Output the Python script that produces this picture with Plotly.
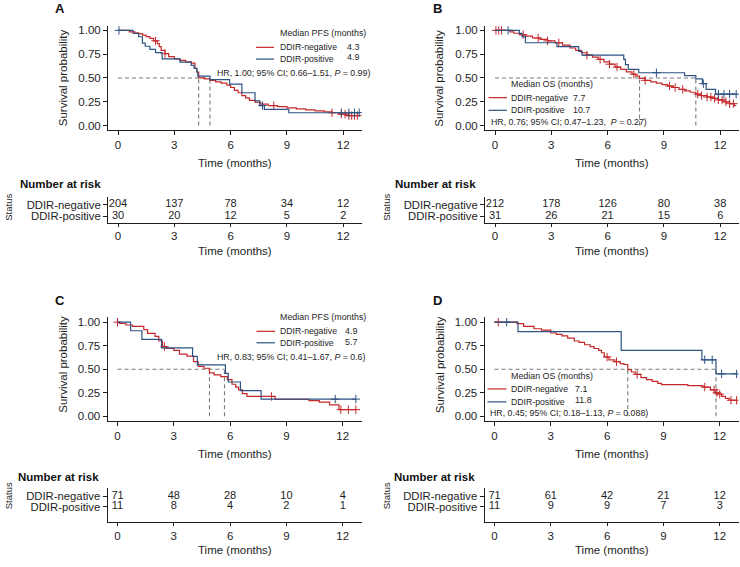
import numpy as np
import plotly.graph_objects as go

W, H = 740, 567
RED = "#C4282B"
BLUE = "#2D5283"
DASH = "#7A7A7A"
AX = "#1E1E1E"
FONT = "Liberation Sans, Arial, sans-serif"

# ---------------- data ----------------
groups = ["DDIR-negative", "DDIR-positive"]
risk_times = [0, 3, 6, 9, 12]

# Panel A (PFS, cohort 1)
A_neg_t = [0, 0.6, 0.9, 1.1, 1.3, 1.5, 1.7, 1.9, 2.1, 2.2, 2.3, 2.5, 2.7, 3.0, 3.3, 3.6, 3.9, 4.1, 4.2, 4.3,
           4.6, 4.9, 5.2, 5.5, 5.8, 6.0, 6.2, 6.4, 6.6, 6.8, 7.0, 7.3, 7.6, 8.0, 8.5, 9.0, 9.5, 10.0, 10.5, 11.0,
           11.4, 11.8, 12.2]
A_neg_s = [1.0, 0.985, 0.975, 0.965, 0.95, 0.935, 0.915, 0.89, 0.86, 0.83, 0.79, 0.755, 0.725, 0.70, 0.685,
           0.67, 0.655, 0.60, 0.56, 0.50, 0.49, 0.475, 0.46, 0.445, 0.425, 0.40, 0.37, 0.345, 0.315, 0.29, 0.265,
           0.245, 0.225, 0.21, 0.20, 0.185, 0.175, 0.165, 0.155, 0.145, 0.135, 0.12, 0.105]
A_neg_end = 12.85
A_neg_cens = [2.0, 2.5, 8.3, 11.4, 11.9, 12.1, 12.3, 12.45, 12.6, 12.75]
A_pos_t = [0, 0.8, 1.1, 1.3, 1.45, 1.7, 2.0, 2.35, 3.3, 3.9, 4.05, 4.2, 4.25, 4.9, 5.95, 6.6, 7.3, 7.55, 7.8, 9.1]
A_pos_s = [1.0, 0.967, 0.933, 0.867, 0.833, 0.80, 0.767, 0.70, 0.667, 0.633, 0.60, 0.567, 0.52, 0.483, 0.435,
           0.345, 0.26, 0.21, 0.17, 0.135]
A_pos_end = 12.9
A_pos_cens = [0.05, 7.7, 11.9, 12.3, 12.6, 12.85]
A_median = [4.3, 4.9]
A_risk_neg = [204, 137, 78, 34, 12]
A_risk_pos = [30, 20, 12, 5, 2]

# Panel B (OS, cohort 1)
B_neg_t = [0, 0.8, 1.0, 1.3, 1.6, 2.0, 2.4, 2.8, 3.2, 3.6, 4.0, 4.3, 4.6, 4.9, 5.2, 5.5, 5.8, 6.1, 6.4, 6.7,
           7.0, 7.3, 7.5, 7.7, 8.0, 8.3, 8.6, 8.9, 9.2, 9.5, 9.8, 10.1, 10.4, 10.7, 11.0, 11.3, 11.6, 11.9, 12.2,
           12.5, 12.75]
B_neg_s = [1.0, 0.985, 0.97, 0.955, 0.94, 0.92, 0.905, 0.89, 0.87, 0.845, 0.815, 0.79, 0.765, 0.74, 0.72,
           0.695, 0.67, 0.645, 0.615, 0.59, 0.565, 0.54, 0.52, 0.495, 0.475, 0.46, 0.445, 0.43, 0.415, 0.40,
           0.38, 0.365, 0.35, 0.33, 0.315, 0.30, 0.285, 0.27, 0.25, 0.23, 0.21]
B_neg_end = 12.85
B_neg_cens = [0.05, 0.2, 0.35, 1.5, 2.3, 2.8, 3.4, 4.9, 5.6, 6.1, 6.5, 7.4, 8.0, 9.3, 9.6, 10.0, 10.8, 11.0,
              11.3, 11.5, 11.7, 11.9, 12.1, 12.3, 12.5, 12.7]
B_pos_t = [0, 1.3, 1.44, 1.62, 3.3, 4.46, 4.64, 6.86, 6.95, 7.1, 7.66, 10.1, 10.7, 11.05, 11.25, 11.75]
B_pos_s = [1.0, 0.968, 0.935, 0.87, 0.83, 0.78, 0.74, 0.695, 0.64, 0.59, 0.555, 0.525, 0.49, 0.44, 0.38, 0.33]
B_pos_end = 12.9
B_pos_cens = [0.7, 8.6, 11.1, 11.9, 12.2, 12.5, 12.85]
B_median = [7.7, 10.7]
B_risk_neg = [212, 178, 126, 80, 38]
B_risk_pos = [31, 26, 21, 15, 6]

# Panel C (PFS, cohort 2)
C_neg_t = [0, 0.1, 0.45, 0.8, 1.4, 1.6, 2.0, 2.2, 2.4, 2.6, 3.0, 3.3, 3.7, 4.05, 4.3, 4.6, 4.9, 5.15, 5.5,
           5.85, 6.1, 6.3, 6.45, 6.65, 6.9, 8.4, 10.2, 10.75, 11.3, 11.8]
C_neg_s = [1.0, 0.986, 0.97, 0.955, 0.92, 0.88, 0.85, 0.80, 0.74, 0.72, 0.70, 0.66, 0.64, 0.58, 0.53, 0.51,
           0.46, 0.44, 0.42, 0.39, 0.34, 0.31, 0.28, 0.24, 0.21, 0.18, 0.165, 0.15, 0.12, 0.07]
C_neg_end = 12.7
C_neg_cens = [0.0, 2.5, 8.2, 11.9, 12.3, 12.7]
C_pos_t = [0, 0.7, 1.3, 2.35, 4.0, 4.25, 5.75, 5.9, 6.55, 7.65]
C_pos_s = [1.0, 0.909, 0.818, 0.727, 0.636, 0.545, 0.455, 0.364, 0.273, 0.182]
C_pos_end = 12.7
C_pos_cens = [11.6, 12.7]
C_median = [4.9, 5.7]
C_risk_neg = [71, 48, 28, 10, 4]
C_risk_pos = [11, 8, 4, 2, 1]

# Panel D (OS, cohort 2)
D_neg_t = [0, 1.2, 1.55, 2.1, 2.5, 3.0, 3.3, 3.6, 3.9, 4.25, 4.5, 4.8, 5.1, 5.3, 5.55, 5.7, 5.85, 6.1, 6.4,
           6.7, 6.9, 7.1, 7.3, 7.5, 7.8, 8.1, 8.4, 8.7, 8.9, 10.3, 11.1, 11.5, 11.75, 11.9, 12.1, 12.3, 12.5]
D_neg_s = [1.0, 0.985, 0.955, 0.93, 0.915, 0.885, 0.87, 0.855, 0.83, 0.80, 0.785, 0.76, 0.74, 0.72, 0.70,
           0.675, 0.63, 0.60, 0.58, 0.56, 0.55, 0.495, 0.47, 0.445, 0.41, 0.39, 0.37, 0.35, 0.335, 0.325, 0.31,
           0.28, 0.25, 0.235, 0.21, 0.19, 0.17]
D_neg_end = 12.9
D_neg_cens = [0.2, 6.0, 6.5, 7.6, 11.2, 11.7, 11.85, 12.0, 12.6, 12.9]
D_pos_t = [0, 1.25, 6.75, 11.05, 11.8]
D_pos_s = [1.0, 0.9, 0.70, 0.60, 0.45]
D_pos_end = 12.9
D_pos_cens = [0.65, 11.2, 11.6, 12.1, 12.9]
D_median = [7.1, 11.8]
D_risk_neg = [71, 61, 42, 21, 12]
D_risk_pos = [11, 9, 9, 7, 3]

legend_titles = ["Median PFS (months)", "Median OS (months)", "Median PFS (months)", "Median OS (months)"]
hr_texts = ["HR, 1.00; 95% CI; 0.66–1.51, <i>P</i> = 0.99)",
            "HR, 0.76; 95% CI; 0.47–1.23,  <i>P</i> = 0.27)",
            "HR, 0.83; 95% CI; 0.41–1.67, <i>P</i> = 0.6)",
            "HR, 0.45; 95% CI; 0.18–1.13, <i>P</i> = 0.088)"]
panel_letters = ["A", "B", "C", "D"]

# ---------------- helpers ----------------
def px(x):
    return x / W

def py(y):
    return 1 - y / H

def step_at(ts, ss, t):
    i = np.searchsorted(np.array(ts), t, side="right") - 1
    return ss[max(i, 0)]

fig = go.Figure()
annotations = []
shapes = []

def ann(text, x, y, size, xanchor="left", yanchor="middle", bold=False, angle=0, color=AX):
    if bold:
        text = "<b>" + text + "</b>"
    annotations.append(dict(text=text, x=px(x), y=py(y), xref="paper", yref="paper", showarrow=False,
                            xanchor=xanchor, yanchor=yanchor, textangle=angle,
                            font=dict(family=FONT, size=size, color=color)))

panels = [
    dict(neg=(A_neg_t, A_neg_s, A_neg_end, A_neg_cens), pos=(A_pos_t, A_pos_s, A_pos_end, A_pos_cens),
         med=A_median, rn=A_risk_neg, rp=A_risk_pos),
    dict(neg=(B_neg_t, B_neg_s, B_neg_end, B_neg_cens), pos=(B_pos_t, B_pos_s, B_pos_end, B_pos_cens),
         med=B_median, rn=B_risk_neg, rp=B_risk_pos),
    dict(neg=(C_neg_t, C_neg_s, C_neg_end, C_neg_cens), pos=(C_pos_t, C_pos_s, C_pos_end, C_pos_cens),
         med=C_median, rn=C_risk_neg, rp=C_risk_pos),
    dict(neg=(D_neg_t, D_neg_s, D_neg_end, D_neg_cens), pos=(D_pos_t, D_pos_s, D_pos_end, D_pos_cens),
         med=D_median, rn=D_risk_neg, rp=D_risk_pos),
]

# layout geometry (pixels)
left_x = [(108, 362), (485, 739), (107.5, 361.5), (484.5, 738.5)]
km_y = [(24.7, 129.8), (24.7, 129.8), (317.6, 421.4), (317.6, 421.4)]
risk_y = [(197, 222.3), (197, 222.3), (489, 523), (489, 523)]
risk_rng = [[0.435, 2.635], [0.435, 2.635], [-0.476, 2.762], [-0.476, 2.762]]
XR = [-0.533, 13.0]

layout = dict(width=W, height=H, margin=dict(l=0, r=0, t=0, b=0), paper_bgcolor="white",
              plot_bgcolor="white", showlegend=False, font=dict(family=FONT, size=11, color=AX))

for k, p in enumerate(panels):
    xa = "x" if k == 0 else f"x{k+1}"
    ya = "y" if k == 0 else f"y{k+1}"
    xr = f"x{k+5}"
    yr = f"y{k+5}"
    # median dashed lines
    m = p["med"]
    fig.add_trace(go.Scatter(x=[0, max(m)], y=[0.5, 0.5], mode="lines", xaxis=xa, yaxis=ya,
                             line=dict(color=DASH, width=1.1, dash="4px,3px"), hoverinfo="skip"))
    for mv in m:
        fig.add_trace(go.Scatter(x=[mv, mv], y=[0, 0.5], mode="lines", xaxis=xa, yaxis=ya,
                                 line=dict(color=DASH, width=1.1, dash="4px,3px"), hoverinfo="skip"))
    # curves
    for key, col in (("neg", RED), ("pos", BLUE)):
        ts, ss, end, cens = p[key]
        fig.add_trace(go.Scatter(x=list(ts) + [end], y=list(ss) + [ss[-1]], mode="lines", line_shape="hv",
                                 xaxis=xa, yaxis=ya, line=dict(color=col, width=1.2), hoverinfo="skip"))
        cy = [step_at(ts, ss, c) for c in cens]
        fig.add_trace(go.Scatter(x=cens, y=cy, mode="markers", xaxis=xa, yaxis=ya,
                                 marker=dict(symbol="cross-thin", size=6, line=dict(color=col, width=1)),
                                 hoverinfo="skip"))
    # risk table numbers
    fig.add_trace(go.Scatter(x=risk_times, y=[2] * 5, mode="text", text=[str(v) for v in p["rn"]],
                             textfont=dict(family=FONT, size=11, color=AX), xaxis=xr, yaxis=yr))
    fig.add_trace(go.Scatter(x=risk_times, y=[1] * 5, mode="text", text=[str(v) for v in p["rp"]],
                             textfont=dict(family=FONT, size=11, color=AX), xaxis=xr, yaxis=yr))

    x0, x1 = left_x[k]
    ky0, ky1 = km_y[k]
    ry0, ry1 = risk_y[k]
    common_x = dict(range=XR, tickvals=risk_times, ticks="outside", ticklen=4, tickcolor=AX, showline=True,
                    linecolor=AX, linewidth=1, showgrid=False, zeroline=False,
                    tickfont=dict(family=FONT, size=11.5, color=AX), domain=[px(x0), px(x1)])
    layout["xaxis" if k == 0 else f"xaxis{k+1}"] = dict(common_x, anchor=ya)
    layout["yaxis" if k == 0 else f"yaxis{k+1}"] = dict(
        range=[-0.05, 1.05], tickvals=[0, 0.25, 0.5, 0.75, 1.0], ticktext=["0.00", "0.25", "0.50", "0.75", "1.00"],
        ticks="outside", ticklen=4, tickcolor=AX, showline=True, linecolor=AX, linewidth=1, showgrid=False,
        zeroline=False, tickfont=dict(family=FONT, size=11.5, color=AX), domain=[py(ky1), py(ky0)], anchor=xa)
    layout[f"xaxis{k+5}"] = dict(common_x, anchor=yr, ticklen=3)
    layout[f"yaxis{k+5}"] = dict(range=risk_rng[k], tickvals=[2, 1], ticktext=groups, ticks="outside",
                                 ticklen=4, tickcolor=AX, showline=True, linecolor=AX, linewidth=1,
                                 showgrid=False, zeroline=False, tickfont=dict(family=FONT, size=11.3, color=AX),
                                 domain=[py(ry1), py(ry0)], anchor=xr)

    cx = (x0 + x1) / 2
    dy = 0 if k < 2 else 291.5
    dxp = 0 if k % 2 == 0 else 377
    # panel letter
    ann(panel_letters[k], 60 + dxp * 1.0 + (0 if k % 2 == 0 else 1), 8 + dy + (1 if k >= 2 else 0), 13,
        xanchor="center", bold=True, color="#111111")
    # axis titles
    ann("Survival probability", 63 + (0 if k % 2 == 0 else 376.5), 77.5 + dy - (4 if k >= 2 else 0), 11.5,
        xanchor="center", angle=-90)
    ann("Time (months)", cx, 163 + dy, 11.5, xanchor="center")
    # risk table texts
    rdy = 0 if k < 2 else 293.5
    ann("Number at risk", 18 + (0 if k % 2 == 0 else 375.5) - (2 if k >= 2 else 0), 183.7 + rdy, 11.5, bold=True,
        color="#111111")
    ann("Status", 8.5 + (0 if k % 2 == 0 else 378), 207 + rdy - (4 if k >= 2 else 0), 9.5, xanchor="center",
        angle=-90)
    ann("Time (months)", cx, 251 + (0 if k < 2 else 300), 11.5, xanchor="center")

# legends (pixel positions)
leg = [
    dict(title=(278, 32), red=(256, 274, 46.5), blue=(256, 274, 58.3), tx=278, val=(344.5, 46, 56.3), hr=(214.5, 72)),
    dict(title=(509.3, 83.7), red=(488.5, 507, 97), blue=(488.5, 507, 109.7), tx=509.3, val=(571.3, 97, 109.2), hr=(488.5, 121.3)),
    dict(title=(277.5, 316.7), red=(256.5, 275, 331.5), blue=(256.5, 275, 343), tx=277.5, val=(342.7, 331, 342.3), hr=(215, 357.3)),
    dict(title=(509.3, 376.7), red=(487.5, 506.5, 389.3), blue=(487.5, 506.5, 402.3), tx=509.3, val=(572.5, 389, 400.5), hr=(488.3, 413.3)),
]
for k, L in enumerate(leg):
    m = panels[k]["med"]
    ann(legend_titles[k], L["title"][0], L["title"][1], 8.9)
    for key, col in (("red", RED), ("blue", BLUE)):
        a, b, yy = L[key]
        shapes.append(dict(type="line", xref="paper", yref="paper", x0=px(a), x1=px(b), y0=py(yy), y1=py(yy),
                           line=dict(color=col, width=1.2)))
    ann(groups[0], L["tx"], L["red"][2], 8.7)
    ann(groups[1], L["tx"], L["blue"][2], 8.7)
    ann(f"{m[0]:.1f}", L["val"][0], L["val"][1], 8.9)
    ann(f"{m[1]:.1f}", L["val"][0], L["val"][2], 8.9)
    ann(hr_texts[k], L["hr"][0], L["hr"][1], 8.8)

layout["annotations"] = annotations
layout["shapes"] = shapes
fig.update_layout(**layout)
fig.write_html("out.html", config={"displayModeBar": False, "staticPlot": True},
               post_script="document.body.style.margin='0';document.body.style.padding='0';")
